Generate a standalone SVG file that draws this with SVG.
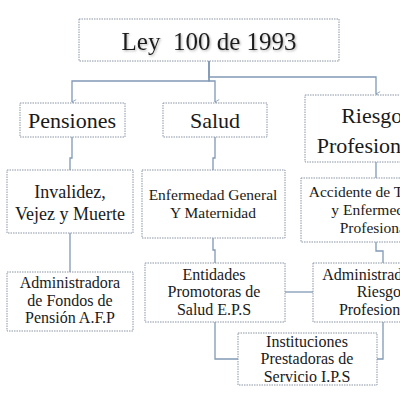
<svg xmlns="http://www.w3.org/2000/svg" width="400" height="400" viewBox="0 0 400 400">
<style>
.box{fill:#ffffff;stroke:#8a95a5;stroke-width:1;stroke-dasharray:1.5 1}
.t{font-family:"Liberation Serif","Times New Roman",serif;fill:#1a1a1a;text-anchor:middle}
.c{fill:none;stroke:#8099b6;stroke-width:1.3}
</style>
<defs>
<marker id="arr" viewBox="0 0 10 10" refX="5" refY="9" markerWidth="6" markerHeight="6" orient="auto-start-reverse" markerUnits="userSpaceOnUse">
<path d="M1,2 L5,9 L9,2" fill="none" stroke="#8099b6" stroke-width="1.4"/>
</marker>
<filter id="sh" x="-10%" y="-20%" width="120%" height="150%">
<feDropShadow dx="1" dy="1.2" stdDeviation="0.8" flood-color="#808080" flood-opacity="0.6"/>
</filter>
</defs>
<rect width="400" height="400" fill="#ffffff"/>
<g id="connectors">
<path class="c" d="M209,61 V81 H72 V102" marker-end="url(#arr)"/>
<path class="c" d="M209,61 V81 H215 V102" marker-end="url(#arr)"/>
<path class="c" d="M209,61 V77 H376 V94" marker-end="url(#arr)"/>
<path class="c" d="M72,137 V158 H70 V170"/>
<path class="c" d="M215,137 V158 H213 V170"/>
<path class="c" d="M70,233 V272"/>
<path class="c" d="M213,238 V250 H215 V263"/>
<path class="c" d="M376,162 V178"/>
<path class="c" d="M376,242 V251 H383 V263"/>
<path class="c" d="M285,292 H313"/>
<path class="c" d="M215,322 V359 H238"/>
<path class="c" d="M383,322 V359 H377"/>
</g>
<g id="ley100">
<rect class="box" x="79" y="19" width="260" height="42"/>
<text class="t" x="209" y="50" font-size="25" filter="url(#sh)" xml:space="preserve">Ley  100 de 1993</text>
</g>
<g id="pensiones">
<rect class="box" x="20" y="103" width="105" height="34"/>
<text class="t" x="72" y="128" font-size="22">Pensiones</text>
</g>
<g id="salud">
<rect class="box" x="163" y="103" width="104" height="34"/>
<text class="t" x="215" y="128" font-size="22">Salud</text>
</g>
<g id="riesgos">
<rect class="box" x="305" y="95" width="142" height="67"/>
<text class="t" x="376" y="123" font-size="22">Riesgos</text>
<text class="t" x="376" y="153" font-size="22">Profesionales</text>
</g>
<g id="invalidez">
<rect class="box" x="7" y="170" width="126" height="63"/>
<text class="t" x="70" y="198" font-size="18">Invalidez,</text>
<text class="t" x="70" y="220" font-size="18">Vejez y Muerte</text>
</g>
<g id="enfermedad">
<rect class="box" x="142" y="170" width="143" height="68"/>
<text class="t" x="213" y="200" font-size="15.5">Enfermedad General</text>
<text class="t" x="213" y="218" font-size="15.5">Y Maternidad</text>
</g>
<g id="accidente">
<rect class="box" x="301" y="178" width="149" height="64"/>
<text class="t" x="375" y="197" font-size="15.5">Accidente de Trabajo</text>
<text class="t" x="375" y="215" font-size="15.5">y Enfermedad</text>
<text class="t" x="375" y="233" font-size="15.5">Profesional</text>
</g>
<g id="afp">
<rect class="box" x="7" y="272" width="126" height="59"/>
<text class="t" x="70" y="288" font-size="16">Administradora</text>
<text class="t" x="70" y="306" font-size="16">de Fondos de</text>
<text class="t" x="70" y="323" font-size="16">Pensión A.F.P</text>
</g>
<g id="eps">
<rect class="box" x="145" y="263" width="140" height="59"/>
<text class="t" x="214" y="280" font-size="16">Entidades</text>
<text class="t" x="214" y="297" font-size="16">Promotoras de</text>
<text class="t" x="214" y="315" font-size="16">Salud E.P.S</text>
</g>
<g id="arp">
<rect class="box" x="313" y="263" width="138" height="59"/>
<text class="t" x="382" y="280" font-size="16">Administradora de</text>
<text class="t" x="382" y="297" font-size="16">Riesgos</text>
<text class="t" x="382" y="315" font-size="16">Profesionales</text>
</g>
<g id="ips">
<rect class="box" x="238" y="333" width="139" height="52"/>
<text class="t" x="307" y="347" font-size="16">Instituciones</text>
<text class="t" x="307" y="364" font-size="16">Prestadoras de</text>
<text class="t" x="307" y="382" font-size="16">Servicio I.P.S</text>
</g>
</svg>
